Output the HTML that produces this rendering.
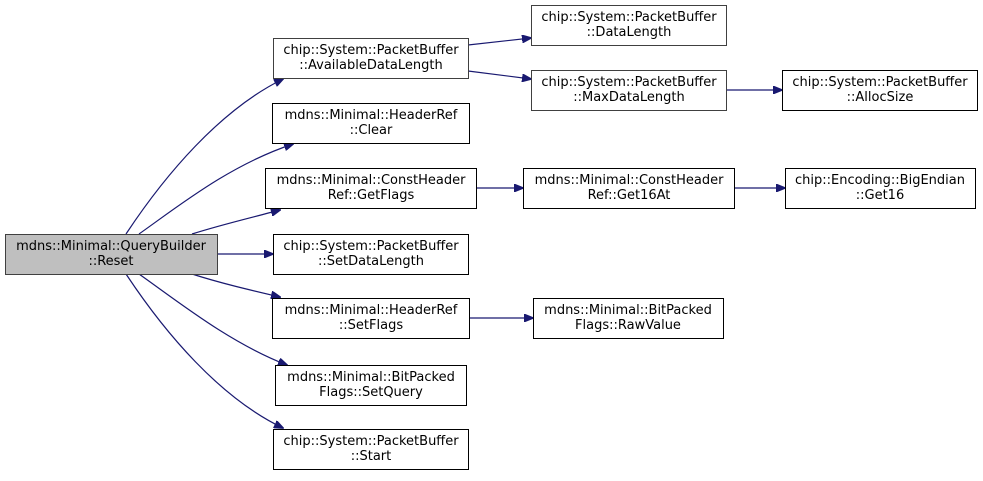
<!DOCTYPE html>
<html><head><style>
body{margin:0;background:#fff}
text{font-family:"DejaVu Sans","Liberation Sans",sans-serif;font-size:13px;fill:#000}
</style></head><body>
<svg width="983" height="476" xmlns="http://www.w3.org/2000/svg">
<defs><marker id="a" markerWidth="10" markerHeight="8" refX="9" refY="4" orient="auto" markerUnits="userSpaceOnUse"><path d="M0,0 L10,4 L0,8 Z" fill="#191970" stroke="#191970"/></marker></defs>
<g fill="none" stroke="#191970" stroke-width="1.2" marker-end="url(#a)">
<path d="M126,234 C165,175 220,110 283,79"/>
<path d="M139,234 C180,205 230,165 293,144"/>
<path d="M192,234 C220,225 250,218 280,210"/>
<path d="M217,254 L273,254"/>
<path d="M192,274 C220,283 250,290 280,297"/>
<path d="M139,274 C180,303 230,343 287,365"/>
<path d="M126,274 C165,333 220,398 283,428"/>
<path d="M468,45 L531,38"/>
<path d="M468,71 L531,79"/>
<path d="M726,90 L782,90"/>
<path d="M476,188 L523,188"/>
<path d="M734,188 L785,188"/>
<path d="M469,318 L533,318"/>
</g>
<g stroke="#000" stroke-width="1" fill="#fff">
<rect x="5.5" y="234.5" width="212" height="40" fill="#bfbfbf" stroke="#404040"/>
<rect x="273.5" y="38.5" width="195" height="40" stroke="#404040"/>
<rect x="272.5" y="103.5" width="197" height="40"/>
<rect x="265.5" y="168.5" width="211" height="40"/>
<rect x="273.5" y="234.5" width="195" height="40"/>
<rect x="272.5" y="298.5" width="197" height="40"/>
<rect x="275.5" y="365.5" width="191" height="40"/>
<rect x="273.5" y="429.5" width="195" height="40"/>
<rect x="531.5" y="5.5" width="195" height="40" stroke="#404040"/>
<rect x="531.5" y="70.5" width="195" height="40" stroke="#404040"/>
<rect x="782.5" y="70.5" width="195" height="40"/>
<rect x="523.5" y="168.5" width="211" height="40"/>
<rect x="785.5" y="168.5" width="190" height="40"/>
<rect x="533.5" y="298.5" width="190" height="40"/>
</g>
<g text-anchor="middle">
<text x="111" y="250">mdns::Minimal::QueryBuilder</text><text x="111" y="265">::Reset</text>
<text x="371" y="54">chip::System::PacketBuffer</text><text x="371" y="69">::AvailableDataLength</text>
<text x="371" y="119">mdns::Minimal::HeaderRef</text><text x="371" y="134">::Clear</text>
<text x="371" y="184">mdns::Minimal::ConstHeader</text><text x="371" y="199">Ref::GetFlags</text>
<text x="371" y="250">chip::System::PacketBuffer</text><text x="371" y="265">::SetDataLength</text>
<text x="371" y="314">mdns::Minimal::HeaderRef</text><text x="371" y="329">::SetFlags</text>
<text x="371" y="381">mdns::Minimal::BitPacked</text><text x="371" y="396">Flags::SetQuery</text>
<text x="371" y="445">chip::System::PacketBuffer</text><text x="371" y="460">::Start</text>
<text x="629" y="21">chip::System::PacketBuffer</text><text x="629" y="36">::DataLength</text>
<text x="629" y="86">chip::System::PacketBuffer</text><text x="629" y="101">::MaxDataLength</text>
<text x="880" y="86">chip::System::PacketBuffer</text><text x="880" y="101">::AllocSize</text>
<text x="629" y="184">mdns::Minimal::ConstHeader</text><text x="629" y="199">Ref::Get16At</text>
<text x="880" y="184">chip::Encoding::BigEndian</text><text x="880" y="199">::Get16</text>
<text x="628" y="314">mdns::Minimal::BitPacked</text><text x="628" y="329">Flags::RawValue</text>
</g>
</svg>
</body></html>
